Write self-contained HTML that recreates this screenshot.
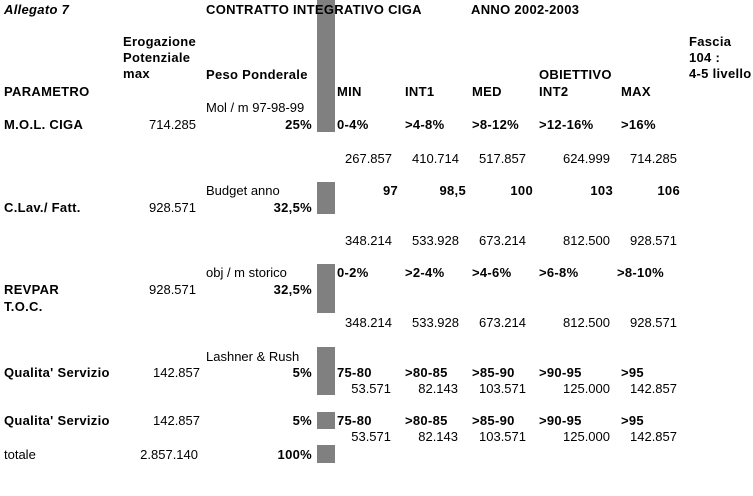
<!DOCTYPE html>
<html><head><meta charset="utf-8"><style>
body{margin:0;width:753px;height:496px;background:#fff;position:relative;overflow:hidden;font-family:"Liberation Sans",Arial,sans-serif;font-size:13px;color:#000}
.t{position:absolute;height:14px;line-height:14px;white-space:nowrap}
.b{font-weight:bold;letter-spacing:0.3px}
.r{text-align:right}
.g{position:absolute;left:317px;width:18px;background:#808080}
</style></head><body>
<div class="g" style="top:0;height:132px"></div>
<div class="g" style="top:182px;height:32px"></div>
<div class="g" style="top:264px;height:49px"></div>
<div class="g" style="top:347px;height:48px"></div>
<div class="g" style="top:412px;height:17px"></div>
<div class="g" style="top:445px;height:18px"></div>

<div class="t b" style="left:4px;top:3px;font-style:italic">Allegato 7</div>
<div class="t b" style="left:206px;top:3px">CONTRATTO INTEGRATIVO CIGA</div>
<div class="t b" style="left:471px;top:3px">ANNO 2002-2003</div>
<div class="t b" style="left:123px;top:35px">Erogazione</div>
<div class="t b" style="left:123px;top:51px">Potenziale</div>
<div class="t b" style="left:123px;top:67px">max</div>
<div class="t b" style="left:689px;top:35px">Fascia</div>
<div class="t b" style="left:689px;top:51px">104 :</div>
<div class="t b" style="left:689px;top:67px">4-5 livello</div>
<div class="t b" style="left:206px;top:68px">Peso Ponderale</div>
<div class="t b" style="left:539px;top:68px">OBIETTIVO</div>
<div class="t b" style="left:4px;top:85px">PARAMETRO</div>
<div class="t b" style="left:337px;top:85px">MIN</div>
<div class="t b" style="left:405px;top:85px">INT1</div>
<div class="t b" style="left:472px;top:85px">MED</div>
<div class="t b" style="left:539px;top:85px">INT2</div>
<div class="t b" style="left:621px;top:85px">MAX</div>

<div class="t" style="left:206px;top:101px">Mol / m 97-98-99</div>
<div class="t b" style="left:4px;top:118px">M.O.L. CIGA</div>
<div class="t r" style="right:557px;top:118px">714.285</div>
<div class="t b r" style="right:441px;top:118px">25%</div>
<div class="t b" style="left:337px;top:118px">0-4%</div>
<div class="t b" style="left:405px;top:118px">&gt;4-8%</div>
<div class="t b" style="left:472px;top:118px">&gt;8-12%</div>
<div class="t b" style="left:539px;top:118px">&gt;12-16%</div>
<div class="t b" style="left:621px;top:118px">&gt;16%</div>
<div class="t r" style="right:361px;top:152px">267.857</div>
<div class="t r" style="right:294px;top:152px">410.714</div>
<div class="t r" style="right:227px;top:152px">517.857</div>
<div class="t r" style="right:143px;top:152px">624.999</div>
<div class="t r" style="right:76px;top:152px">714.285</div>

<div class="t" style="left:206px;top:184px">Budget anno</div>
<div class="t b r" style="right:355px;top:184px">97</div>
<div class="t b r" style="right:287px;top:184px">98,5</div>
<div class="t b r" style="right:220px;top:184px">100</div>
<div class="t b r" style="right:140px;top:184px">103</div>
<div class="t b r" style="right:73px;top:184px">106</div>
<div class="t b" style="left:4px;top:201px">C.Lav./ Fatt.</div>
<div class="t r" style="right:557px;top:201px">928.571</div>
<div class="t b r" style="right:441px;top:201px">32,5%</div>
<div class="t r" style="right:361px;top:234px">348.214</div>
<div class="t r" style="right:294px;top:234px">533.928</div>
<div class="t r" style="right:227px;top:234px">673.214</div>
<div class="t r" style="right:143px;top:234px">812.500</div>
<div class="t r" style="right:76px;top:234px">928.571</div>

<div class="t" style="left:206px;top:266px">obj / m storico</div>
<div class="t b" style="left:337px;top:266px">0-2%</div>
<div class="t b" style="left:405px;top:266px">&gt;2-4%</div>
<div class="t b" style="left:472px;top:266px">&gt;4-6%</div>
<div class="t b" style="left:539px;top:266px">&gt;6-8%</div>
<div class="t b" style="left:617px;top:266px">&gt;8-10%</div>
<div class="t b" style="left:4px;top:283px">REVPAR</div>
<div class="t b" style="left:4px;top:300px">T.O.C.</div>
<div class="t r" style="right:557px;top:283px">928.571</div>
<div class="t b r" style="right:441px;top:283px">32,5%</div>
<div class="t r" style="right:361px;top:316px">348.214</div>
<div class="t r" style="right:294px;top:316px">533.928</div>
<div class="t r" style="right:227px;top:316px">673.214</div>
<div class="t r" style="right:143px;top:316px">812.500</div>
<div class="t r" style="right:76px;top:316px">928.571</div>

<div class="t" style="left:206px;top:350px">Lashner &amp; Rush</div>
<div class="t b" style="left:4px;top:366px">Qualita' Servizio</div>
<div class="t r" style="right:553px;top:366px">142.857</div>
<div class="t b r" style="right:441px;top:366px">5%</div>
<div class="t b" style="left:337px;top:366px">75-80</div>
<div class="t b" style="left:405px;top:366px">&gt;80-85</div>
<div class="t b" style="left:472px;top:366px">&gt;85-90</div>
<div class="t b" style="left:539px;top:366px">&gt;90-95</div>
<div class="t b" style="left:621px;top:366px">&gt;95</div>
<div class="t r" style="right:362px;top:382px">53.571</div>
<div class="t r" style="right:295px;top:382px">82.143</div>
<div class="t r" style="right:227px;top:382px">103.571</div>
<div class="t r" style="right:143px;top:382px">125.000</div>
<div class="t r" style="right:76px;top:382px">142.857</div>

<div class="t b" style="left:4px;top:414px">Qualita' Servizio</div>
<div class="t r" style="right:553px;top:414px">142.857</div>
<div class="t b r" style="right:441px;top:414px">5%</div>
<div class="t b" style="left:337px;top:414px">75-80</div>
<div class="t b" style="left:405px;top:414px">&gt;80-85</div>
<div class="t b" style="left:472px;top:414px">&gt;85-90</div>
<div class="t b" style="left:539px;top:414px">&gt;90-95</div>
<div class="t b" style="left:621px;top:414px">&gt;95</div>
<div class="t r" style="right:362px;top:430px">53.571</div>
<div class="t r" style="right:295px;top:430px">82.143</div>
<div class="t r" style="right:227px;top:430px">103.571</div>
<div class="t r" style="right:143px;top:430px">125.000</div>
<div class="t r" style="right:76px;top:430px">142.857</div>

<div class="t" style="left:4px;top:448px">totale</div>
<div class="t r" style="right:555px;top:448px">2.857.140</div>
<div class="t b r" style="right:441px;top:448px">100%</div>
</body></html>
